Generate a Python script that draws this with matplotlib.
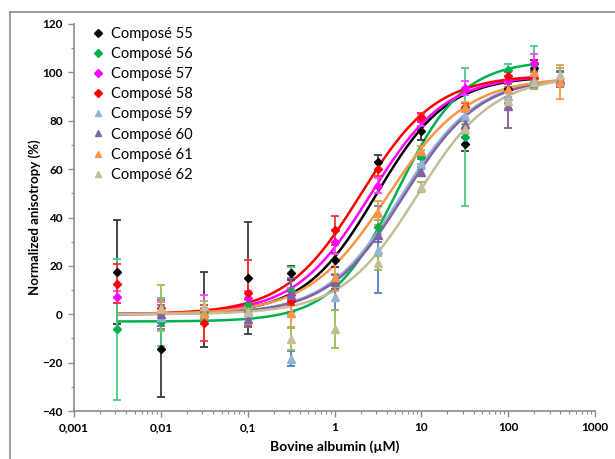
import numpy as np
import matplotlib
matplotlib.use("Agg")
import matplotlib.pyplot as plt
from matplotlib.lines import Line2D
from matplotlib.ticker import FixedLocator, FixedFormatter, MultipleLocator, LogLocator, NullFormatter

plt.rcParams['font.family'] = ['Lato', 'DejaVu Sans']

labels = ["Composé 55", "Composé 56", "Composé 57", "Composé 58",
          "Composé 59", "Composé 60", "Composé 61", "Composé 62"]

x_diamond = [0.00316, 0.01, 0.0316, 0.1, 0.316, 1, 3.16, 10, 31.6, 100, 200]
x_triangle = [0.01, 0.0316, 0.1, 0.316, 1, 3.16, 10, 31.6, 100, 200, 400]

y55 = [17.4, -14.5, 2.0, 15.0, 17.0, 22.4, 62.8, 75.9, 70.4, 93.0, 102.0]
e55 = [21.5, 19.6, 15.5, 23.0, 3.0, 3.0, 3.0, 4.0, 3.0, 3.0, 3.0]
y56 = [-6.3, -3.2, 0.8, 4.1, 9.5, 13.5, 36.0, 65.1, 73.2, 101.0, 103.5]
e56 = [29.0, 10.0, 3.0, 2.0, 10.0, 3.0, 3.0, 3.0, 28.5, 2.5, 7.5]
y57 = [7.3, 1.0, 2.0, 6.8, 8.0, 29.8, 53.2, 80.3, 93.5, 97.0, 104.0]
e57 = [2.5, 4.8, 6.0, 3.0, 3.0, 5.0, 3.0, 2.5, 3.0, 3.0, 3.5]
y58 = [12.6, 2.5, -3.7, 8.9, 5.5, 34.8, 60.0, 81.4, 85.5, 98.6, 97.6]
e58 = [8.0, 2.5, 7.5, 13.7, 1.5, 6.0, 3.0, 2.0, 2.0, 2.0, 3.0]
y59 = [-1.0, 0.5, 1.0, -18.3, 7.0, 26.6, 62.2, 82.0, 90.2, 97.0, 97.5]
e59 = [5.0, 2.0, 3.0, 3.0, 5.2, 18.0, 2.0, 2.0, 3.0, 3.0, 3.0]
y60 = [0.0, 0.5, -2.1, 7.8, 13.3, 32.8, 59.0, 78.5, 86.0, 96.0, 97.0]
e60 = [5.0, 2.0, 3.0, 7.0, 3.0, 3.0, 2.0, 2.0, 9.0, 3.0, 3.0]
y61 = [2.2, 0.6, 1.5, 0.6, 15.5, 41.7, 67.6, 85.6, 93.0, 100.3, 96.1]
e61 = [3.0, 2.0, 2.0, 6.0, 6.0, 5.0, 2.0, 2.0, 3.0, 3.0, 7.0]
y62 = [2.6, 3.4, 1.0, -10.3, -6.2, 21.1, 52.5, 76.5, 88.3, 96.1, 98.9]
e62 = [9.5, 2.0, 5.0, 4.5, 7.9, 3.0, 2.0, 2.0, 3.0, 3.0, 3.0]

# fitted sigmoid parameters (bottom, top, EC50, Hill slope)
fit_bottom = [0, -3, 0, 0, 0, 0, 0, 0]
fit_top = [98.5, 105, 99, 99, 98, 98, 98, 98.5]
fit_ec50 = [3.0, 5.3, 2.6, 2.0, 5.9, 6.3, 4.1, 9.0]
fit_hill = [1.05, 1.15, 1.0, 1.0, 1.0, 1.0, 0.95, 1.0]
fit_xmax = [200, 200, 200, 200, 400, 400, 400, 400]

colors = ["#000000", "#00B050", "#FF00FF", "#FF0000",
          "#95B3D7", "#8064A2", "#F79646", "#C4BD97"]
err_colors = ["#3A3A3A", "#4CCB84", "#FF40FF", "#FF3030",
              "#4F81BD", "#7A5FA0", "#F79646", "#9BBB59"]
markers = ["D", "D", "D", "D", "^", "^", "^", "^"]

ys = [y55, y56, y57, y58, y59, y60, y61, y62]
es = [e55, e56, e57, e58, e59, e60, e61, e62]
xs = [x_diamond] * 4 + [x_triangle] * 4

fig = plt.figure(figsize=(6.15, 4.59), dpi=100)
ax = fig.add_axes([74 / 615, 1 - 411 / 459, (595 - 74) / 615, (411 - 24) / 459])

# curves
for i in range(8):
    xc = np.logspace(np.log10(0.00316), np.log10(fit_xmax[i]), 300)
    yc = fit_bottom[i] + (fit_top[i] - fit_bottom[i]) / (1 + (fit_ec50[i] / xc) ** fit_hill[i])
    ax.plot(xc, yc, color=colors[i], lw=1.8, zorder=2)

# points with error bars
for i in range(8):
    ax.errorbar(xs[i], ys[i], yerr=es[i], fmt="none", ecolor=err_colors[i],
                elinewidth=1.3, capsize=3, capthick=1.3, zorder=3)
    ms = 4.5 if markers[i] == "D" else 6
    ax.plot(xs[i], ys[i], linestyle="none", marker=markers[i], color=colors[i],
            markersize=ms, zorder=4)

ax.set_xscale("log")
ax.set_xlim(0.001, 1000)
ax.set_ylim(-40, 120)

xt = [0.001, 0.01, 0.1, 1, 10, 100, 1000]
xtl = ["0,001", "0,01", "0,1", "1", "10", "100", "1000"]
ax.xaxis.set_major_locator(FixedLocator(xt))
ax.xaxis.set_major_formatter(FixedFormatter(xtl))
ax.xaxis.set_minor_locator(LogLocator(base=10, subs=np.arange(2, 10)))
ax.xaxis.set_minor_formatter(NullFormatter())
ax.yaxis.set_major_locator(MultipleLocator(20))
ax.yaxis.set_minor_locator(MultipleLocator(10))

for s in ["top", "right"]:
    ax.spines[s].set_visible(False)
for s in ["left", "bottom"]:
    ax.spines[s].set_color("#8C8C8C")
    ax.spines[s].set_linewidth(1.2)

ax.tick_params(axis="both", which="major", direction="out", length=4, width=1,
               color="#8C8C8C", labelsize=8.5, pad=4)
ax.tick_params(axis="both", which="minor", direction="out", length=2.5, width=0.8,
               color="#8C8C8C")
for lab in ax.get_xticklabels() + ax.get_yticklabels():
    lab.set_fontweight("bold")

ax.set_xlabel("Bovine albumin (µM)", fontsize=10, fontweight="bold", labelpad=5)
ax.set_ylabel("Normalized anisotropy (%)", fontsize=9.5, fontweight="bold", labelpad=1)

handles = [Line2D([], [], linestyle="none", marker=markers[i], color=colors[i],
                  markersize=4 if markers[i] == "D" else 5) for i in range(8)]
ax.legend(handles, labels, loc="upper left", bbox_to_anchor=(0.02, 1.015),
          frameon=False, fontsize=10.5, handlelength=0.6, handletextpad=0.6,
          labelspacing=0.42, borderaxespad=0.2)

# outer chart frame (left and top edges)
fig.add_artist(Line2D([10 / 615, 10 / 615], [0, 1 - 12 / 459], color="#8C8C8C", lw=1.2))
fig.add_artist(Line2D([10 / 615, 1], [1 - 12 / 459, 1 - 12 / 459], color="#8C8C8C", lw=1.2))

fig.savefig("out.png", dpi=100)
